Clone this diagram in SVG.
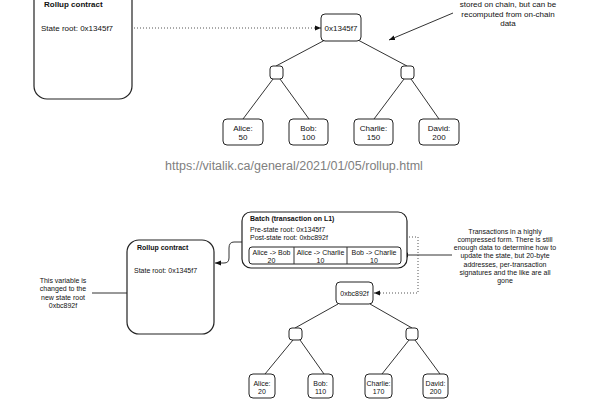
<svg xmlns="http://www.w3.org/2000/svg" width="600" height="410" viewBox="0 0 600 410">
<defs>
<marker id="ah" viewBox="0 0 10 10" refX="10" refY="5" markerWidth="6" markerHeight="6" orient="auto-start-reverse" markerUnits="userSpaceOnUse">
<path d="M0,1 L10,5 L0,9 Z" fill="#111"/>
</marker>
</defs>
<style>
text{font-family:"Liberation Sans",Arial,sans-serif;fill:#111}
.box{fill:#fff;stroke:#222;stroke-width:1}
.big{fill:#fff;stroke:#222;stroke-width:1.2}
.ln{fill:none;stroke:#333;stroke-width:1}
.dot{fill:none;stroke:#555;stroke-width:1;stroke-dasharray:1 2}
.t8{font-size:8px}
.t7{font-size:7px}
.b{font-weight:bold}
.c{text-anchor:middle}
</style>
<rect width="600" height="410" fill="#fff"/>

<g id="connectors">
<line class="dot" x1="119" y1="28" x2="321" y2="28" marker-start="url(#ah)" marker-end="url(#ah)"/>
<line class="ln" x1="453" y1="13" x2="389" y2="40" marker-end="url(#ah)"/>
<line class="ln" x1="325" y1="40" x2="276" y2="66"/>
<line class="ln" x1="358" y1="40" x2="407" y2="66"/>
<line class="ln" x1="273" y1="79" x2="243" y2="119"/>
<line class="ln" x1="280" y1="79" x2="309" y2="119"/>
<line class="ln" x1="404" y1="79" x2="374" y2="119"/>
<line class="ln" x1="411" y1="79" x2="439" y2="119"/>

<path class="ln" d="M242,242 H234 Q229,242 229,248 V258 Q229,263 224,263 H215" marker-end="url(#ah)"/>
<path class="ln" d="M92,293 H180 Q185,293 185,288 V276" marker-end="url(#ah)"/>
<line class="ln" x1="452" y1="255" x2="402" y2="255" marker-end="url(#ah)"/>
<path class="dot" d="M374,293 H418 V237 H338" marker-start="url(#ah)" marker-end="url(#ah)"/>
<line class="ln" x1="338" y1="304" x2="295" y2="328"/>
<line class="ln" x1="370" y1="304" x2="412" y2="328"/>
<line class="ln" x1="293" y1="340" x2="265" y2="374"/>
<line class="ln" x1="300" y1="340" x2="324" y2="374"/>
<line class="ln" x1="409" y1="340" x2="382" y2="374"/>
<line class="ln" x1="415" y1="340" x2="440" y2="374"/>
</g>

<g id="rollup-top">
<rect class="big" x="34" y="-20" width="98" height="119" rx="13"/>
<text class="t8 b" x="44" y="6.5">Rollup contract</text>
<text class="t8" x="41" y="31">State root: 0x1345f7</text>
</g>

<g id="note-top">
<text class="t8 c" x="508" y="7">stored on chain, but can be</text>
<text class="t8 c" x="508" y="16.5">recomputed from on-chain</text>
<text class="t8 c" x="508" y="26">data</text>
</g>

<g id="root-top">
<rect class="box" x="321" y="14" width="40" height="27" rx="4"/>
<text class="t8 c" x="341" y="31">0x1345f7</text>
</g>
<g id="mid-top-l"><rect class="box" x="270" y="66" width="13" height="13" rx="3"/></g>
<g id="mid-top-r"><rect class="box" x="401" y="66" width="13" height="13" rx="3"/></g>

<g id="leaf-alice-top">
<rect class="box" x="223" y="119" width="40" height="26" rx="4"/>
<text class="t8 c" x="243" y="131">Alice:</text>
<text class="t8 c" x="243" y="140">50</text>
</g>
<g id="leaf-bob-top">
<rect class="box" x="289" y="119" width="39" height="26" rx="4"/>
<text class="t8 c" x="308.5" y="131">Bob:</text>
<text class="t8 c" x="308.5" y="140">100</text>
</g>
<g id="leaf-charlie-top">
<rect class="box" x="354" y="119" width="39" height="26" rx="4"/>
<text class="t8 c" x="373.5" y="131">Charlie:</text>
<text class="t8 c" x="373.5" y="140">150</text>
</g>
<g id="leaf-david-top">
<rect class="box" x="419" y="119" width="40" height="26" rx="4"/>
<text class="t8 c" x="439" y="131">David:</text>
<text class="t8 c" x="439" y="140">200</text>
</g>

<g id="url">
<text x="294" y="170" class="c" style="font-size:12.5px;fill:#808080">https://vitalik.ca/general/2021/01/05/rollup.html</text>
</g>

<g id="batch">
<rect class="big" x="242" y="212" width="165" height="56" rx="9"/>
<text class="t7 b" x="250" y="220.5">Batch (transaction on L1)</text>
<text class="t7" x="250" y="231.5">Pre-state root: 0x1345f7</text>
<text class="t7" x="250" y="239.5">Post-state root: 0xbc892f</text>
<rect class="box" x="249" y="247" width="152" height="17" rx="3"/>
<line class="ln" x1="294" y1="247" x2="294" y2="264"/>
<line class="ln" x1="347" y1="247" x2="347" y2="264"/>
<text class="t7 c" x="271.5" y="254.5">Alice -&gt; Bob</text>
<text class="t7 c" x="271.5" y="262.5">20</text>
<text class="t7 c" x="320.5" y="254.5">Alice -&gt; Charlie</text>
<text class="t7 c" x="320.5" y="262.5">10</text>
<text class="t7 c" x="374" y="254.5">Bob -&gt; Charlie</text>
<text class="t7 c" x="374" y="262.5">10</text>
</g>

<g id="rollup-bottom">
<rect class="big" x="127" y="240" width="87" height="94" rx="12"/>
<text class="t7 b" x="137" y="249.5">Rollup contract</text>
<text class="t7" x="134" y="272.5">State root: 0x1345f7</text>
</g>

<g id="note-left">
<text class="t7 c" x="63" y="282.5">This variable is</text>
<text class="t7 c" x="63" y="291">changed to the</text>
<text class="t7 c" x="63" y="299.5">new state root</text>
<text class="t7 c" x="63" y="308">0xbc892f</text>
</g>

<g id="note-right">
<text class="t7 c" x="505" y="233.5">Transactions in a highly</text>
<text class="t7 c" x="505" y="241.8">compressed form. There is still</text>
<text class="t7 c" x="505" y="250.1">enough data to determine how to</text>
<text class="t7 c" x="505" y="258.4">update the state, but 20-byte</text>
<text class="t7 c" x="505" y="266.7">addresses, per-transaction</text>
<text class="t7 c" x="505" y="275">signatures and the like are all</text>
<text class="t7 c" x="505" y="283.3">gone</text>
</g>

<g id="root-bottom">
<rect class="box" x="336" y="282" width="37" height="22" rx="4"/>
<text class="t7 c" x="354.5" y="295.5">0xbc892f</text>
</g>
<g id="mid-bot-l"><rect class="box" x="289" y="328" width="13" height="12" rx="3"/></g>
<g id="mid-bot-r"><rect class="box" x="406" y="328" width="12" height="12" rx="3"/></g>

<g id="leaf-alice-bot">
<rect class="box" x="249" y="374" width="26" height="24" rx="4"/>
<text class="t7 c" x="262" y="385.5">Alice:</text>
<text class="t7 c" x="262" y="393.5">20</text>
</g>
<g id="leaf-bob-bot">
<rect class="box" x="308" y="374" width="25" height="24" rx="4"/>
<text class="t7 c" x="320.5" y="385.5">Bob:</text>
<text class="t7 c" x="320.5" y="393.5">110</text>
</g>
<g id="leaf-charlie-bot">
<rect class="box" x="365" y="374" width="27" height="24" rx="4"/>
<text class="t7 c" x="378.5" y="385.5">Charlie:</text>
<text class="t7 c" x="378.5" y="393.5">170</text>
</g>
<g id="leaf-david-bot">
<rect class="box" x="423" y="374" width="25" height="24" rx="4"/>
<text class="t7 c" x="435.5" y="385.5">David:</text>
<text class="t7 c" x="435.5" y="393.5">200</text>
</g>
</svg>
